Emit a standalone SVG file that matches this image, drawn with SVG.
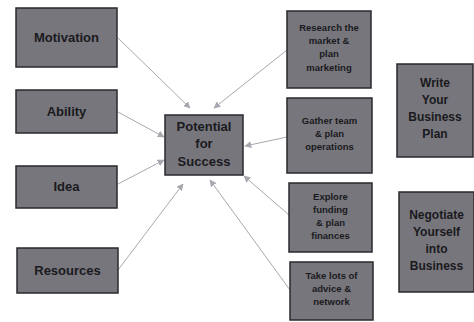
<svg xmlns="http://www.w3.org/2000/svg" width="474" height="322" viewBox="0 0 474 322">
<style>
.box{fill:#77767c;stroke:#2a2a2c;stroke-width:1.5}
text{font-family:"Liberation Sans",Arial,sans-serif;font-weight:bold;fill:#1a1a1e;text-anchor:middle}
.l{font-size:13px}
.c{font-size:13px}
.s{font-size:9.5px}
.b{font-size:12px}
.conn{stroke:#a8a8b0;stroke-width:1;fill:none;marker-end:url(#ah)}
</style>
<defs>
<marker id="ah" viewBox="0 0 10 10" refX="9" refY="5" markerWidth="7" markerHeight="7" orient="auto" markerUnits="userSpaceOnUse">
<path d="M0,0 L10,5 L0,10 z" fill="#a8a8b0"/>
</marker>
</defs>
<rect width="474" height="322" fill="#ffffff"/>
<g id="connectors">
<line class="conn" x1="118" y1="38" x2="190" y2="108"/>
<line class="conn" x1="118" y1="112" x2="164" y2="137"/>
<line class="conn" x1="118" y1="184" x2="164" y2="160"/>
<line class="conn" x1="118" y1="270" x2="183" y2="184"/>
<line class="conn" x1="287" y1="50" x2="214" y2="108"/>
<line class="conn" x1="287" y1="137" x2="245" y2="146"/>
<line class="conn" x1="289" y1="215" x2="244" y2="176"/>
<line class="conn" x1="290" y1="290" x2="210" y2="180"/>
</g>
<g id="motivation"><rect class="box" x="16" y="8" width="101" height="59"/><text class="l" x="66.5" y="42">Motivation</text></g>
<g id="ability"><rect class="box" x="16" y="90" width="101" height="43"/><text class="l" x="66.5" y="116">Ability</text></g>
<g id="idea"><rect class="box" x="16" y="166" width="101" height="42"/><text class="l" x="66.5" y="191">Idea</text></g>
<g id="resources"><rect class="box" x="17" y="248" width="101" height="45"/><text class="l" x="67.5" y="275">Resources</text></g>
<g id="potential"><rect class="box" x="165" y="115" width="78" height="60"/><text class="c" x="204" y="131">Potential</text><text class="c" x="204" y="148">for</text><text class="c" x="204" y="166">Success</text></g>
<g id="research"><rect class="box" x="287" y="11" width="84" height="77"/><text class="s" x="329" y="31">Research the</text><text class="s" x="329" y="44">market &amp;</text><text class="s" x="329" y="57">plan</text><text class="s" x="329" y="71">marketing</text></g>
<g id="gather"><rect class="box" x="287" y="98" width="85" height="75"/><text class="s" x="329.5" y="124">Gather team</text><text class="s" x="329.5" y="137">&amp; plan</text><text class="s" x="329.5" y="150">operations</text></g>
<g id="explore"><rect class="box" x="289" y="183" width="83" height="69"/><text class="s" x="330.5" y="200">Explore</text><text class="s" x="330.5" y="213">funding</text><text class="s" x="330.5" y="226">&amp; plan</text><text class="s" x="330.5" y="239">finances</text></g>
<g id="advice"><rect class="box" x="290" y="262" width="83" height="58"/><text class="s" x="331.5" y="279">Take lots of</text><text class="s" x="331.5" y="292">advice &amp;</text><text class="s" x="331.5" y="305">network</text></g>
<g id="write"><rect class="box" x="397" y="64" width="76" height="93"/><text class="b" x="435" y="87">Write</text><text class="b" x="435" y="104">Your</text><text class="b" x="435" y="121">Business</text><text class="b" x="435" y="138">Plan</text></g>
<g id="negotiate"><rect class="box" x="399" y="192" width="75" height="100"/><text class="b" x="436.5" y="219">Negotiate</text><text class="b" x="436.5" y="236">Yourself</text><text class="b" x="436.5" y="253">into</text><text class="b" x="436.5" y="270">Business</text></g>
</svg>
